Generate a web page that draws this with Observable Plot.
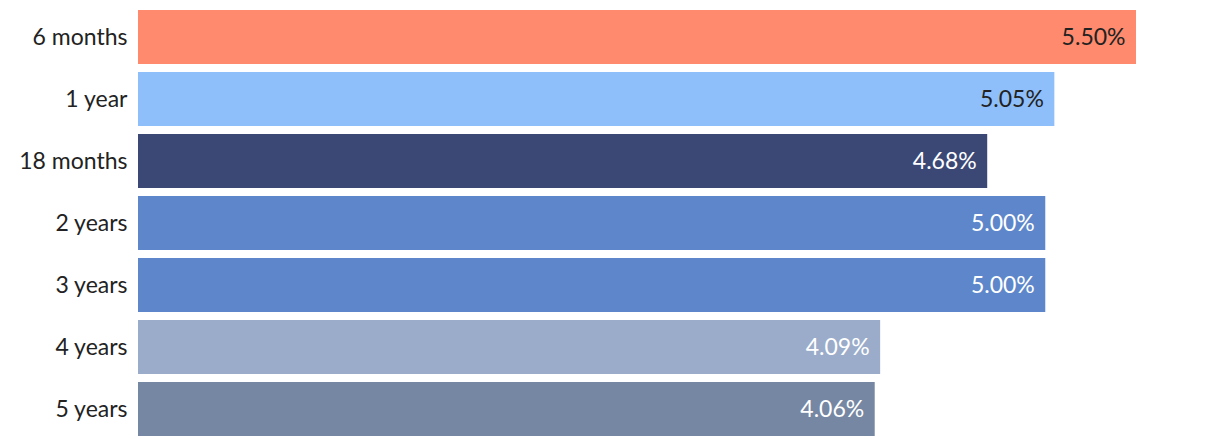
<!DOCTYPE html>
<html>
<head>
<meta charset="utf-8">
<script src="https://cdn.jsdelivr.net/npm/d3@7"></script>
<script src="https://cdn.jsdelivr.net/npm/@observablehq/plot@0.6"></script>
<style>
  body { margin: 0; background: #fff; }
  #chart svg { display: block; }
</style>
</head>
<body>
<div id="chart"></div>
<script>
const terms = ["6 months", "1 year", "18 months", "2 years", "3 years", "4 years", "5 years"];
const rates = [5.50, 5.05, 4.68, 5.00, 5.00, 4.09, 4.06];
const barColors = ["#FF8A6D", "#8FBFFA", "#3B4876", "#5D87CA", "#5D87CA", "#9AACC9", "#7587A3"];
const labelColors = ["#222222", "#222222", "#ffffff", "#ffffff", "#ffffff", "#ffffff", "#ffffff"];

const data = terms.map((t, i) => ({term: t, rate: rates[i], fill: barColors[i], text: labelColors[i]}));

const chart = Plot.plot({
  width: 1220,
  height: 446,
  marginLeft: 138,
  marginRight: 84,
  marginTop: 6,
  marginBottom: 6,
  style: {fontFamily: "Lato, sans-serif", fontSize: "23px", color: "#222"},
  x: {domain: [0, 5.5], axis: null},
  y: {domain: terms, paddingInner: 8/62, paddingOuter: 4/62, label: null, tickSize: 0, tickPadding: 11},
  marks: [
    Plot.barX(data, {x: "rate", y: "term", fill: d => d.fill}),
    Plot.text(data, {x: "rate", y: "term", text: d => d.rate.toFixed(2) + "%", textAnchor: "end", dx: -11, fill: d => d.text, fontSize: 23}),
    Plot.axisY({tickSize: 0, tickPadding: 11, fontSize: 23, label: null})
  ]
});
document.getElementById("chart").append(chart);
</script>
</body>
</html>
